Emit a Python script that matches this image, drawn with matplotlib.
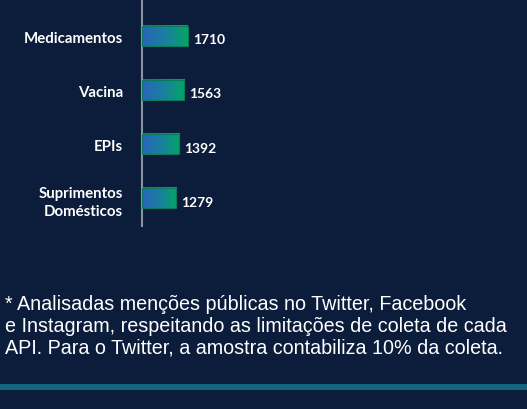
import numpy as np
import matplotlib.pyplot as plt
from matplotlib.colors import LinearSegmentedColormap

categories = ["Medicamentos", "Vacina", "EPIs", "Suprimentos\nDomésticos"]
values = [1710, 1563, 1392, 1279]
footnote = ("* Analisadas menções públicas no Twitter, Facebook\n"
            "e Instagram, respeitando as limitações de coleta de cada\n"
            "API. Para o Twitter, a amostra contabiliza 10% da coleta.")

BG = "#0c1c3b"
W, H = 527, 410

fig = plt.figure(figsize=(W / 100, H / 100), dpi=100, facecolor=BG)

# axes in pixel coords: left=142, top=0, bottom=227, width 300
ax_left, ax_top, ax_bot, ax_w = 142, 0, 227, 300
ax = fig.add_axes([ax_left / W, 1 - ax_bot / H, ax_w / W, (ax_bot - ax_top) / H])
ax.set_facecolor(BG)

y = np.arange(len(categories))
bar_h = 0.37
bars = ax.barh(y, values, height=bar_h, color="none", edgecolor="#0a7a5a", linewidth=0.8, zorder=3)

# horizontal blue -> green gradient inside each bar
grad = LinearSegmentedColormap.from_list("g", ["#2766b8", "#1a7fa0", "#02a566"])
gimg = np.linspace(0, 1, 256).reshape(1, -1)
for rect in bars:
    x0, y0 = rect.get_x(), rect.get_y()
    ax.imshow(gimg, cmap=grad, aspect="auto", zorder=2,
              extent=[x0, x0 + rect.get_width(), y0 + rect.get_height(), y0])

xmax = 1710 * ax_w / 46
ax.set_xlim(0, xmax)
ax.set_ylim(3.51, -0.685)

for yi, v in zip(y, values):
    ax.text(v + xmax * 5 / ax_w, yi + 0.06, str(v), va="center", ha="left",
            color="white", fontsize=10, fontweight="bold", family="Lato")

ax.set_yticks(y)
ax.set_yticklabels(categories, color="white", fontsize=10.8, fontweight="bold",
                   family="Lato", linespacing=1.35)
ax.tick_params(axis="y", length=0, pad=13.5)
ax.set_xticks([])
for s in ["top", "right", "bottom"]:
    ax.spines[s].set_visible(False)
ax.spines["left"].set_color("#8a93a6")
ax.spines["left"].set_linewidth(1.5)

fig.text(5 / W, 1 - 326 / H, footnote, color="white", fontsize=14.2,
         family="Liberation Sans", ha="left", va="center", linespacing=1.17)

# bottom teal rule
fig.add_artist(plt.Line2D([0, 1], [1 - 388 / H, 1 - 388 / H], color="#12677f",
                          linewidth=4.3, transform=fig.transFigure))

fig.savefig("out.png", dpi=100, facecolor=BG)
